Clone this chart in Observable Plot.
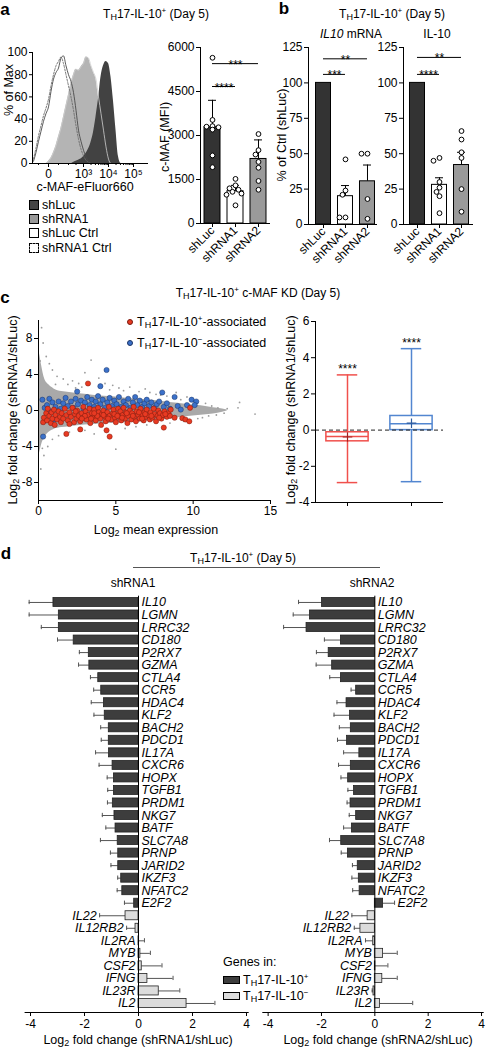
<!DOCTYPE html>
<html><head><meta charset="utf-8">
<script src="https://cdn.jsdelivr.net/npm/d3@7"></script>
<script src="https://cdn.jsdelivr.net/npm/@observablehq/plot@0.6"></script>
<style>
body{margin:0;background:#fff;}
#root{position:relative;width:488px;height:1050px;overflow:hidden;font-family:"Liberation Sans",Arial,sans-serif;color:#000;background:#fff;}
.t{position:absolute;white-space:nowrap;line-height:1;font-size:12px;}
.sub{font-size:9px;position:relative;top:2px;}
.sup{font-size:8px;position:relative;top:-5px;}
#root svg{position:absolute;}
.sw{position:absolute;box-sizing:border-box;border:1px solid #000;}
</style></head><body><div id="root"></div>
<script>
// ---------- DATA ----------
// Panel a: histogram (x in display units: 0 -> "0", 1.4 -> 10^3, 2.4 -> 10^4, 3.4 -> 10^5)
const uGrid = [-0.6,-0.5,-0.4,-0.3,-0.2,-0.1,0,0.1,0.2,0.3,0.4,0.5,0.6,0.7,0.8,0.9,1.0,1.1,1.2,1.3,1.4,1.5,1.6,1.7,1.8,1.9,2.0,2.1,2.2,2.3,2.4,2.5,2.6,2.7,2.8,2.9,3.0];
const histShLuc     = [0,0,0,0,0,0,0,0,0,0,0,0,0,0,0,0,1,2,3,4,6,9,13,19,28,42,58,78,88,92,90,78,56,30,6,0,0];
const histShRNA1    = [0,0,0,0,0,0,2,5,10,16,24,32,42,52,62,72,80,85,84,87,90,96,95,88,82,76,60,45,30,15,4,0,0,0,0,0,0];
const histShLucCtrl = [2,10,20,29,38,45,51,65,76,82,86,95,97,88,80,74,64,48,30,20,12,6,2,0,0,0,0,0,0,0,0,0,0,0,0,0,0];
const histShRNA1Ctrl= [4,14,25,34,43,50,58,70,80,88,92,96,90,80,70,60,48,34,22,13,7,3,1,0,0,0,0,0,0,0,0,0,0,0,0,0,0];
const histTickPos = [0,1.4,2.4,3.4];
const histTickLabels = ["0","10³","10⁴","10⁵"];

// Panel a: c-MAF MFI
const groups = ["shLuc","shRNA1","shRNA2"];
const mfiMean = [3280,1100,2200];
const mfiErr  = [920,200,650];
const mfiPts  = [[5650,3530,3320,3300,3280,3200,2320,1920],[1520,1300,1200,1150,1080,1020,980,620],[3050,2500,2350,2100,1900,1450,1150]];
const mfiSigFrom=[0,0], mfiSigTo=[1,2], mfiSigY=[4670,5450], mfiSigLab=["****","***"];

// Panel b
const mrnaMean=[100,20,30.5], mrnaErr=[0,7.5,11.5];
const mrnaPts=[[100],[46,24,21,5,5],[50,50,18,4]];
const mrnaSigFrom=[0,0], mrnaSigTo=[1,2], mrnaSigY=[106,117], mrnaSigLab=["***","**"];
const il10Mean=[100,28,42], il10Err=[0,5,9];
const il10Pts=[[100],[47,45,30,26,23,20,8],[66,60,51,47,25,9]];
const il10SigFrom=[0,0], il10SigTo=[1,2], il10SigY=[106,118], il10SigLab=["****","**"];

// Panel c: MA plot
const grayX   = [0,0.1,0.2,0.4,0.7,1.0,1.5,2.0,3.0,4.0,5.0,6.0,7.0,8.0,9.0,10.0,11.0,11.6,12.2];
const grayTop = [6.8,6.0,5.0,3.5,2.8,2.4,2.1,2.0,1.8,1.6,1.5,1.3,1.2,1.0,0.8,0.6,0.4,0.25,0.05];
const grayBot = [-5.2,-4.5,-3.8,-3.0,-2.4,-2.1,-1.9,-1.8,-1.6,-1.5,-1.4,-1.3,-1.2,-1.0,-0.8,-0.6,-0.45,-0.3,-0.05];
const grayPts = [[0.2,9.2],[0.3,7.5],[0.5,6.0],[0.7,5.2],[0.9,4.5],[1.2,3.8],[1.6,3.5],[2.2,3.3],[2.6,3.0],[3.0,4.2],[3.4,5.6],[3.9,3.6],[4.3,3.0],[4.8,2.8],[5.2,2.5],[5.9,2.6],[6.5,2.1],[7.2,2.0],[7.6,1.8],[8.3,1.6],[9.2,1.2],[10.0,1.0],[10.8,0.8],[11.2,0.5],[11.6,0.3],[12.0,-0.3],[12.2,0.2],[12.9,0.3],[13.0,0.9],[14.0,-0.4],[0.15,-6.5],[0.35,-5.0],[0.6,-4.0],[0.9,-3.2],[1.3,-2.8],[2.0,-2.4],[3.0,-2.2],[3.6,-2.6],[5.0,-4.3],[5.6,-2.0],[6.3,-1.8],[7.0,-1.6],[8.5,-1.4],[9.4,-1.2],[10.3,-0.9],[11.0,-0.6],[11.5,-0.5],[2.8,2.6],[1.9,2.9],[4.6,2.3],[6.9,2.4],[8.9,2.0],[9.6,1.5],[10.6,-0.8],[0.25,-4.2],[0.1,5.5],[1.1,2.9],[2.4,2.5],[5.5,2.2],[7.9,1.7]];
const bluePts = [[0.25,1.2],[0.3,-2.9],[0.4,0.3],[0.45,-1.1],[0.55,0.6],[0.7,1.3],[0.75,-0.1],[0.9,0.9],[1.0,-1.0],[1.1,0.4],[1.3,1.0],[1.45,0.2],[1.6,0.8],[1.75,1.4],[1.9,0.5],[2.1,1.0],[2.25,0.3],[2.4,1.3],[2.5,2.1],[2.55,0.7],[2.75,1.1],[2.9,0.2],[3.0,0.9],[3.15,1.5],[3.3,0.6],[3.45,1.2],[3.6,0.4],[3.7,1.0],[3.85,1.6],[4.0,2.7],[4.0,0.7],[4.15,1.2],[4.3,0.3],[4.4,4.5],[4.45,0.9],[4.6,1.4],[4.75,0.5],[4.9,1.1],[5.05,0.7],[5.2,1.5],[5.35,0.4],[5.5,1.0],[5.65,0.6],[5.8,1.3],[5.95,0.3],[6.1,0.9],[6.25,1.5],[6.4,0.6],[6.55,1.1],[6.7,0.4],[6.85,0.8],[7.0,1.2],[7.15,0.5],[7.3,0.9],[7.5,0.3],[7.65,0.7],[7.8,1.0],[8.0,2.0],[8.1,0.4],[8.3,0.8],[8.5,0.2],[8.8,1.5],[9.0,0.5],[9.2,0.1],[9.6,0.6],[9.9,1.2],[10.2,1.0],[10.1,0.6]];
const redPts = [[0.3,-1.3],[0.35,-0.8],[0.5,-0.3],[0.55,-1.1],[0.6,0.2],[0.7,-0.6],[0.8,-1.4],[0.85,-0.2],[0.9,-0.9],[1.0,0.1],[1.05,-1.6],[1.1,-0.5],[1.2,-1.0],[1.3,-0.1],[1.4,-0.7],[1.45,-1.3],[1.5,-0.3],[1.6,-0.9],[1.7,0.2],[1.8,-2.6],[1.8,-0.5],[1.9,-1.1],[2.0,-0.2],[2.1,-0.7],[2.2,0.3],[2.3,-1.3],[2.35,-0.4],[2.45,-0.9],[2.5,0.0],[2.6,-0.6],[2.7,-2.1],[2.7,-1.2],[2.8,-0.3],[2.9,0.4],[2.95,-0.8],[3.05,-0.1],[3.1,-1.0],[3.2,3.0],[3.2,-0.5],[3.3,0.2],[3.35,-1.4],[3.45,-0.3],[3.5,-0.8],[3.6,0.1],[3.7,-1.1],[3.75,-0.5],[3.85,0.3],[3.9,-0.2],[4.0,-0.9],[4.05,-1.6],[4.1,-0.4],[4.2,0.0],[4.3,-0.7],[4.35,-1.2],[4.4,-2.2],[4.45,-0.2],[4.55,0.4],[4.6,-2.9],[4.6,-0.6],[4.7,-1.0],[4.8,-0.3],[4.85,0.1],[4.95,-0.8],[5.0,-1.3],[5.05,-0.4],[5.15,0.2],[5.2,-0.7],[5.3,-0.1],[5.35,-1.1],[5.45,-0.5],[5.5,0.3],[5.6,-0.9],[5.65,-0.2],[5.75,-1.4],[5.8,-0.6],[5.9,0.0],[6.0,-1.0],[6.05,-0.3],[6.15,0.4],[6.2,-0.7],[6.3,-1.2],[6.35,-0.1],[6.45,-0.5],[6.55,-0.9],[6.6,0.2],[6.7,-0.4],[6.8,-1.1],[6.85,-0.2],[6.95,-0.7],[7.0,0.1],[7.1,-0.5],[7.2,-1.0],[7.25,-0.2],[7.35,-0.8],[7.45,0.2],[7.5,-0.4],[7.6,-1.2],[7.7,-0.6],[7.75,0.0],[7.85,-0.3],[7.95,-0.9],[8.05,-0.5],[8.1,-1.9],[8.15,-0.1],[8.3,-0.7],[8.4,-0.3],[8.5,-0.6],[8.55,0.1],[8.8,-0.8],[9.3,-0.85],[9.5,-1.0],[9.75,-1.2],[9.8,0.3],[2.0,-1.5],[2.4,-0.1],[3.0,-0.6],[3.4,-0.9],[3.8,-0.6],[4.2,-0.5],[4.5,-0.9],[4.9,-0.4],[5.4,-0.8],[5.7,-0.3],[6.1,-0.6],[6.5,-0.2],[6.9,-0.4],[7.3,-0.6],[7.8,-0.8],[8.2,-0.4],[5.1,-0.6],[6.7,-0.9],[3.6,-0.3],[2.8,-0.9]];

// Panel c: box plot
const boxMin=[-2.9,-2.85], boxQ1=[-0.62,0.0], boxMed=[-0.35,0.35], boxQ3=[-0.12,0.78], boxMax=[3.05,4.5], boxMean=[-0.38,0.38];
const boxStars=["****","****"];

// Panel d
const genes=["IL10","LGMN","LRRC32","CD180","P2RX7","GZMA","CTLA4","CCR5","HDAC4","KLF2","BACH2","PDCD1","IL17A","CXCR6","HOPX","TGFB1","PRDM1","NKG7","BATF","SLC7A8","PRNP","JARID2","IKZF3","NFATC2","E2F2","IL22","IL12RB2","IL2RA","MYB","CSF2","IFNG","IL23R","IL2"];
const geneGroup=["pos","pos","pos","pos","pos","pos","pos","pos","pos","pos","pos","pos","pos","pos","pos","pos","pos","pos","pos","pos","pos","pos","pos","pos","pos","neg","neg","neg","neg","neg","neg","neg","neg"];
const fc1=[-3.15,-2.95,-2.95,-2.4,-1.84,-1.82,-1.49,-1.38,-1.28,-1.25,-1.1,-1.1,-1.09,-0.96,-0.91,-0.91,-0.95,-0.89,-0.85,-0.77,-0.75,-0.75,-0.64,-0.6,-0.16,-0.48,-0.11,0.02,0.07,0.12,0.33,0.75,1.78];
const err1=[0.9,1.1,0.65,0.6,0.35,0.4,0.29,0.28,0.47,0.4,0.3,0.28,0.5,0.5,0.25,0.23,0.2,0.45,0.36,0.64,0.29,0.27,0.13,0.19,0.36,0.96,0.33,0.2,0.37,0.75,0.95,0.78,1.05];
const fc2=[-1.98,-2.43,-2.56,-1.27,-1.73,-1.6,-1.27,-0.7,-1.06,-0.93,-0.9,-1.04,-0.58,-0.9,-1.0,-0.78,-0.91,-0.7,-0.86,-1.26,-1.01,-0.64,-0.6,-0.57,0.31,-0.27,-0.54,-0.06,0.31,0.02,0.28,-0.05,0.19];
const err2=[0.88,0.63,0.86,0.62,0.46,0.6,0.42,0.19,0.36,0.6,0.43,0.36,0.59,0.46,0.27,0.23,0.13,0.26,0.31,0.44,0.25,0.2,0.26,0.26,0.43,0.59,0.23,0.29,0.53,0.47,0.56,0.05,1.23];

// ---------- HELPERS ----------
const root=document.getElementById("root");
const FONT='"Liberation Sans", Arial, sans-serif';
const style={fontFamily:FONT,fontSize:"12px",background:"transparent",overflow:"visible",color:"#000"};
const fmt=d=>String(d);
function place(svg,left,top){svg.style.left=left+"px";svg.style.top=top+"px";root.appendChild(svg);}
function txt(html,x,y,o={}){
  const d=document.createElement("div");d.className="t";d.innerHTML=html;
  const a=o.anchor||"middle";const tx=a==="middle"?"-50%":a==="end"?"-100%":"0";
  d.style.left=x+"px";d.style.top=y+"px";
  if(o.size)d.style.fontSize=o.size+"px";
  if(o.weight)d.style.fontWeight=o.weight;
  d.style.transform=`translate(${tx},-50%)`+(o.rotate?` rotate(${o.rotate}deg)`:"");
  root.appendChild(d);return d;
}
function sw(x,y,w,h,bg,extra){const d=document.createElement("div");d.className="sw";d.style.left=x+"px";d.style.top=y+"px";d.style.width=w+"px";d.style.height=h+"px";d.style.background=bg;if(extra)d.style.cssText+=extra;root.appendChild(d);}
const TH='T<span class="sub">H</span>17-IL-10';
function swarm(vals,kY,r,kX){
  const placed=[],out=[];const order=vals.map((v,i)=>i).sort((a,b)=>vals[b]-vals[a]);
  for(const i of order){const y=vals[i]*kY;let ox=0;
    for(const c of [0,-1,1,-2,2,-3,3]){const x=c*r*1.25;if(placed.every(p=>Math.hypot(p.x-x,p.y-y)>=2*r*0.95)){ox=x;break;}}
    placed.push({x:ox,y});out[i]=ox/kX;}
  return out;
}

// ---------- PANEL a: histogram ----------
const histData=uGrid.map((u,i)=>({u,luc:histShLuc[i],rna1:histShRNA1[i],lucCtrl:histShLucCtrl[i],rna1Ctrl:histShRNA1Ctrl[i]}));
const minorTicks=[];[1.4,2.4].forEach(b=>{for(let k=2;k<10;k++)minorTicks.push(b+Math.log10(k));});
[-0.4,0.4,0.8,1.1].forEach(v=>minorTicks.push(v));
place(Plot.plot({width:160,height:160,marginLeft:32,marginRight:12,marginTop:12,marginBottom:37,style,
  x:{domain:[-0.64,4.0]},y:{domain:[0,100]},
  marks:[
    Plot.areaY(histData,{x:"u",y:"rna1",fill:"#b4b4b4",curve:"monotone-x"}),
    Plot.areaY(histData,{x:"u",y:"luc",fill:"#424242",curve:"monotone-x"}),
    Plot.lineY(histData,{x:"u",y:"rna1",stroke:"#cfcfcf",strokeWidth:0.8,curve:"monotone-x"}),
    Plot.lineY(histData,{x:"u",y:"lucCtrl",stroke:"#4a4a4a",strokeWidth:0.9,curve:"monotone-x"}),
    Plot.lineY(histData,{x:"u",y:"rna1Ctrl",stroke:"#6a6a6a",strokeWidth:0.9,strokeDasharray:"2,1.5",curve:"monotone-x"}),
    Plot.ruleX([-0.64]),Plot.ruleY([0]),
    Plot.axisY({ticks:[0,20,40,60,80,100],tickSize:3,tickPadding:2,label:null,tickFormat:fmt}),
    Plot.axisX({ticks:minorTicks,tickSize:2,tickFormat:()=>"",label:null}),
    Plot.axisX({ticks:histTickPos,tickSize:4,tickPadding:2,label:null,tickFormat:d=>histTickLabels[histTickPos.indexOf(d)]})
  ]}),0,40);

// ---------- bar chart helper (a, b) ----------
const barFill=["#333333","#ffffff","#9a9a9a"];
function barChart(o){
  const idx=[0,1,2];
  const kY=o.pxH/(o.ymax), kX=o.step;
  const pts=[];o.pts.forEach((arr,g)=>{const off=swarm(arr,kY,2.4,kX);arr.forEach((v,j)=>pts.push({g,v,off:off[j]}));});
  const sig=o.sigY.map((y,i)=>({a:o.sigFrom[i],b:o.sigTo[i],y,lab:o.sigLab[i]}));
  const cap=4/kX, hw=o.bw/2/kX;
  return Plot.plot({width:o.W,height:230,marginLeft:o.mL,marginRight:o.mR,marginTop:o.mT,marginBottom:o.mB,style,
    x:{domain:o.xd},y:{domain:[0,o.ymax]},
    marks:[
      Plot.ruleX(idx.filter(i=>o.err[i]>0),{x:i=>i,y1:i=>o.mean[i],y2:i=>o.mean[i]+o.err[i],stroke:"#000",strokeWidth:1}),
      Plot.ruleY(idx.filter(i=>o.err[i]>0),{x1:i=>i-cap,x2:i=>i+cap,y:i=>o.mean[i]+o.err[i],stroke:"#000",strokeWidth:1}),
      Plot.rectY(idx,{x1:i=>i-hw,x2:i=>i+hw,y1:()=>0,y2:i=>o.mean[i],fill:i=>barFill[i],stroke:"#000",strokeWidth:1}),
      Plot.dot(pts.filter(p=>!(o.noDot0&&p.g===0)),{x:p=>p.g+p.off,y:"v",r:2.4,fill:"#fff",stroke:"#000",strokeWidth:1}),
      Plot.ruleY(sig,{x1:"a",x2:"b",y:"y",stroke:"#000",strokeWidth:1}),
      Plot.text(sig,{x:d=>(d.a+d.b)/2,y:"y",text:"lab",fontSize:12,lineAnchor:"bottom",dy:5}),
      Plot.ruleX([o.xd[0]]),Plot.ruleY([0]),
      Plot.axisY({ticks:o.yt,tickSize:4,tickPadding:2,label:null,tickFormat:fmt}),
      Plot.axisX({ticks:idx,tickSize:4,tickPadding:1,tickRotate:-45,label:null,tickFormat:i=>groups[i]})
    ]});
}
place(barChart({W:130,mL:50,mR:10,mT:17,mB:37,pxH:176,ymax:6000,step:23,bw:16,xd:[-0.522,2.522],
  mean:mfiMean,err:mfiErr,pts:mfiPts,sigFrom:mfiSigFrom,sigTo:mfiSigTo,sigY:mfiSigY,sigLab:mfiSigLab,yt:[0,1500,3000,4500,6000]}),150,30);
place(barChart({W:110,mL:38,mR:3,mT:17,mB:36,pxH:177,ymax:125,step:22,bw:15,xd:[-0.682,2.455],noDot0:true,
  mean:mrnaMean,err:mrnaErr,pts:mrnaPts,sigFrom:mrnaSigFrom,sigTo:mrnaSigTo,sigY:mrnaSigY,sigLab:mrnaSigLab,yt:[0,25,50,75,100,125]}),270,30);
place(barChart({W:110,mL:33,mR:7,mT:17,mB:36,pxH:177,ymax:125,step:22,bw:15,xd:[-0.636,2.545],noDot0:true,
  mean:il10Mean,err:il10Err,pts:il10Pts,sigFrom:il10SigFrom,sigTo:il10SigTo,sigY:il10SigY,sigLab:il10SigLab,yt:[0,25,50,75,100,125]}),370,30);

// ---------- PANEL c: MA plot ----------
const grayArea=grayX.map((x,i)=>({x,top:grayTop[i],bot:grayBot[i]}));
place(Plot.plot({width:290,height:250,marginLeft:38,marginRight:20,marginTop:20,marginBottom:50,style,
  x:{domain:[0,15]},y:{domain:[-10,10]},
  marks:[
    Plot.areaY(grayArea,{x:"x",y1:"bot",y2:"top",fill:"#a9a9a9",curve:"monotone-x"}),
    Plot.dot(grayPts,{x:d=>d[0],y:d=>d[1],r:0.9,fill:"#9c9c9c"}),
    Plot.dot(bluePts,{x:d=>d[0],y:d=>d[1],r:2.6,fill:"#3b71c9",stroke:"#1c3466",strokeWidth:0.5}),
    Plot.dot(redPts,{x:d=>d[0],y:d=>d[1],r:2.6,fill:"#e83a22",stroke:"#7a1a0e",strokeWidth:0.5}),
    Plot.ruleX([0]),Plot.ruleY([-10]),
    Plot.axisY({ticks:[-8,-4,0,4,8],tickSize:4,tickPadding:2,label:null,tickFormat:fmt}),
    Plot.axisX({ticks:[0,5,10,15],tickSize:4,tickPadding:2,label:null,tickFormat:fmt})
  ]}),0,300);

// ---------- PANEL c: box plot ----------
const boxCol=["#f0504c","#5286d0"];
const bi=[0,1], bpos=i=>i+1;
place(Plot.plot({width:198,height:250,marginLeft:25,marginRight:45,marginTop:21,marginBottom:48,style,
  x:{domain:[0.5,2.5]},y:{domain:[-4,6]},
  marks:[
    Plot.ruleX(bi,{x:bpos,y1:i=>boxMin[i],y2:i=>boxQ1[i],stroke:i=>boxCol[i],strokeWidth:1.5}),
    Plot.ruleX(bi,{x:bpos,y1:i=>boxQ3[i],y2:i=>boxMax[i],stroke:i=>boxCol[i],strokeWidth:1.5}),
    Plot.ruleY(bi,{x1:i=>bpos(i)-0.16,x2:i=>bpos(i)+0.16,y:i=>boxMin[i],stroke:i=>boxCol[i],strokeWidth:1.5}),
    Plot.ruleY(bi,{x1:i=>bpos(i)-0.16,x2:i=>bpos(i)+0.16,y:i=>boxMax[i],stroke:i=>boxCol[i],strokeWidth:1.5}),
    Plot.rect(bi,{x1:i=>bpos(i)-0.33,x2:i=>bpos(i)+0.33,y1:i=>boxQ1[i],y2:i=>boxQ3[i],fill:"none",stroke:i=>boxCol[i],strokeWidth:1.5}),
    Plot.ruleY(bi,{x1:i=>bpos(i)-0.33,x2:i=>bpos(i)+0.33,y:i=>boxMed[i],stroke:i=>boxCol[i],strokeWidth:1.5}),
    Plot.ruleY([0],{stroke:"#222",strokeDasharray:"4,3",strokeWidth:1}),
    Plot.dot(bi,{x:bpos,y:i=>boxMean[i],symbol:"plus",r:3.2,stroke:i=>i===0?"#a02020":"#2a5aa0",strokeWidth:1.2}),
    Plot.text(bi,{x:bpos,y:i=>boxMax[i],text:i=>boxStars[i],fontSize:12,lineAnchor:"bottom",dy:-2}),
    Plot.ruleX([0.5]),Plot.ruleY([-4]),
    Plot.axisY({ticks:[-4,-2,0,2,4,6],tickSize:4,tickPadding:2,label:null,tickFormat:fmt}),
    Plot.axisX({ticks:[1,2],tickSize:4,tickFormat:()=>"",label:null})
  ]}),290,300);

// ---------- PANEL d ----------
const YMAX=32.72;
function dPlot(fc,err,W,mL,mR){
  const rows=genes.map((g,i)=>{const v=fc[i],e=err[i],s=v<0?-1:1,end=v+s*e,pos=geneGroup[i]==="pos";
    return {g,i,v,end,pos,lab:pos?Math.max(0,v,end):Math.min(0,v,end)};});
  return Plot.plot({width:W,height:460,marginLeft:mL,marginRight:mR,marginTop:15.7,marginBottom:28,style,
    x:{domain:[-4.2,4.1]},y:{domain:[-0.5,YMAX],reverse:true,axis:null},
    marks:[
      Plot.ruleY(rows,{y:"i",x1:"v",x2:"end",stroke:"#555",strokeWidth:1}),
      Plot.ruleX(rows,{x:"end",y1:d=>d.i-0.17,y2:d=>d.i+0.17,stroke:"#555",strokeWidth:1}),
      Plot.rectX(rows,{x1:()=>0,x2:"v",y1:d=>d.i-0.36,y2:d=>d.i+0.36,fill:d=>d.pos?"#3d3d3d":"#dcdcdc",stroke:"#222",strokeWidth:0.8}),
      Plot.ruleX([0],{stroke:"#000",strokeWidth:1}),
      Plot.text(rows.filter(d=>d.pos),{x:"lab",y:"i",text:"g",textAnchor:"start",dx:3,fontStyle:"italic",fontSize:12.5}),
      Plot.text(rows.filter(d=>!d.pos),{x:"lab",y:"i",text:"g",textAnchor:"end",dx:-3,fontStyle:"italic",fontSize:12.5}),
      Plot.ruleY([YMAX]),
      Plot.axisX({ticks:[-4,-2,0,2,4],tickSize:4,tickPadding:3,label:null,tickFormat:fmt})
    ]});
}
place(dPlot(fc1,err1,260,24.6,11.3),0,580);
place(dPlot(fc2,err2,248,22.3,4.3),240,580);

// ---------- TEXT / LEGENDS ----------
txt("a",5,9,{size:17,weight:"bold"});
txt("b",284,8,{size:17,weight:"bold"});
txt("c",5,297,{size:17,weight:"bold"});
txt("d",6,553,{size:17,weight:"bold"});
txt(TH+'<span class="sup">+</span> (Day 5)',156,14);
txt(TH+'<span class="sup">+</span> (Day 5)',392,14);
txt('<i>IL10</i> mRNA',351,34);
txt('IL-10',437,34);
txt('% of Max',9,90,{rotate:-90,size:12.5});
txt('c-MAF-eFluor660',85,187,{size:12.5});
txt('c-MAF (MFI)',165,137,{rotate:-90,size:12.5});
txt('% of Ctrl (shLuc)',282,135,{rotate:-90,size:12.5});
// hist legend
sw(29,200,10,10,"#444");sw(29,214,10,10,"#999");sw(29,228,10,10,"#fff");sw(29,243,10,10,"#fff","border:1px dashed #000;");
txt('shLuc',42,205,{anchor:"start",size:12.5});
txt('shRNA1',42,219,{anchor:"start",size:12.5});
txt('shLuc Ctrl',42,233,{anchor:"start",size:12.5});
txt('shRNA1 Ctrl',42,248,{anchor:"start",size:12.5});
// panel c
txt(TH+'<span class="sup">+</span> c-MAF KD (Day 5)',258,293);
txt('Log<span class="sub">2</span> fold change (shRNA1/shLuc)',13,410,{rotate:-90,size:12.5});
txt('Log<span class="sub">2</span> mean expression',156,530,{size:12.5});
txt('Log<span class="sub">2</span> fold change (shRNA1/shLuc)',291,410,{rotate:-90,size:12.5});
sw(127,319,6,6,"#e83a22","border:0.5px solid #7a1a0e;border-radius:50%;");
sw(127,340,6,6,"#3b71c9","border:0.5px solid #1c3466;border-radius:50%;");
txt(TH+'<span class="sup">+</span>-associated',137,322,{anchor:"start",size:12.5});
txt(TH+'<span class="sup">−</span>-associated',137,343,{anchor:"start",size:12.5});
// panel d
txt(TH+'<span class="sup">+</span> (Day 5)',243,558);
sw(133,567,247,1,"#555","border:none;");
txt('shRNA1',133,583);
txt('shRNA2',372,583);
txt('Log<span class="sub">2</span> fold change (shRNA1/shLuc)',138,1040,{size:12.5});
txt('Log<span class="sub">2</span> fold change (shRNA2/shLuc)',378,1040,{size:12.5});
txt('Genes in:',223,962,{anchor:"start",size:12.5});
sw(223,976,17,8,"#3d3d3d");sw(223,992,17,8,"#dcdcdc");
txt(TH+'<span class="sup">+</span>',243,980,{anchor:"start",size:12.5});
txt(TH+'<span class="sup">−</span>',243,996,{anchor:"start",size:12.5});
</script></body></html>
